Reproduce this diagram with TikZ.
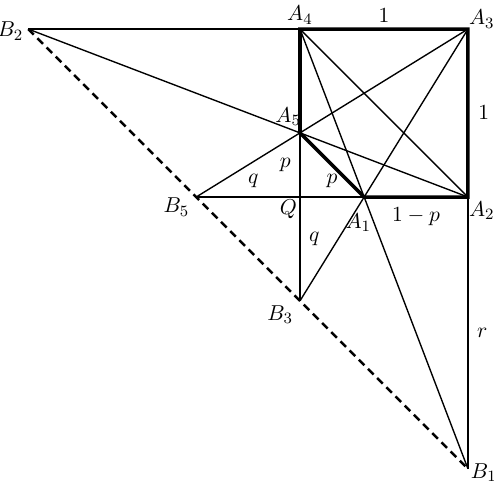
\documentclass[tikz,border=0pt]{standalone}
\usetikzlibrary{positioning}

\begin{document}
\begin{tikzpicture}[x=3cm, y=3cm,
    every node/.style={font=\fontsize{11}{13}\selectfont},
    thin line/.style={line width=0.7pt},
    thick line/.style={line width=1.8pt, line join=miter},
    dash line/.style={line width=1.3pt, dash pattern=on 4pt off 2.6pt}]
  \useasboundingbox (-1.786,-1.708) rectangle (1.155,1.173);
  % the unit square and the points on its sides
  \coordinate (Q) at (0,0);
  \coordinate (A1) at (0.382,0);
  \coordinate (A2) at (1,0);
  \coordinate (A3) at (1,1);
  \coordinate (A4) at (0,1);
  \coordinate (A5) at (0,0.382);
  \coordinate (B1) at (1,-1.618);
  \coordinate (B2) at (-1.618,1);
  \coordinate (B3) at (0,-0.618);
  \coordinate (B5) at (-0.618,0);

  \draw [dash line] (B2) -- (B1);
  \draw [thin line] (B2) -- (A4);
  \draw [thin line] (B2) -- (A2);
  \draw [thin line] (B5) -- (A3);
  \draw [thin line] (B3) -- (A3);
  \draw [thin line] (A4) -- (B1);
  \draw [thin line] (A4) -- (A2);
  \draw [thin line] (A2) -- node[right=1pt] (lr) {$r$} (B1);
  \draw [thin line] (B5) -- node[above=1pt, pos=0.55] (lq1) {$q$} (Q) -- node[above=1pt] (lp1) {$p$} (A1);
  \draw [thin line] (A5) -- node[left=1pt] (lp2) {$p$} (Q) -- node[right=1pt, pos=0.4] (lq2) {$q$} (B3);
  \draw [thick line] (A1) -- node[below=1pt] (l1p) {$1-p$} (A2)
    -- node[right=1pt] (l1r) {$1$} (A3)
    -- node[above=-1pt] (l1t) {$1$} (A4) -- (A5) -- cycle;

  % point labels
  \node [above=-1pt of A4] (nA4) {$A_4$};
  \node [above right=-3pt and -3pt of A3] (nA3) {$A_3$};
  \node [above left=0pt and -4pt of A5] (nA5) {$A_5$};
  \node [below right=-1pt and -3pt of A2] (nA2) {$A_2$};
  \node [below=5pt of A1, xshift=-3pt] (nA1) {$A_1$};
  \node [below left=-2pt and -2pt of Q] (nQ) {$Q$};
  \node [below left=-3pt and 0pt of B5] (nB5) {$B_5$};
  \node [below left=-1pt and 0pt of B3] (nB3) {$B_3$};
  \node [right=-2pt of B1, yshift=-2pt] (nB1) {$B_1$};
  \node [below left=-7pt and -1pt of B2] (nB2) {$B_2$};
\end{tikzpicture}
\end{document}
